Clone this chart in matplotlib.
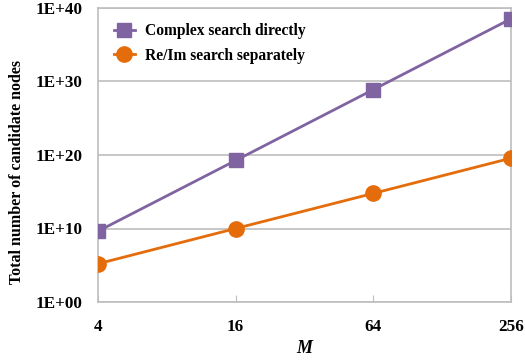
import matplotlib
matplotlib.use("Agg")
import matplotlib.pyplot as plt

# Total candidate nodes versus constellation size M
m_labels = ["4", "16", "64", "256"]
complex_direct = [4.3e9, 1.8e19, 7.9e28, 3.4e38]
reim_separate = [1.6e5, 1.0e10, 6.0e14, 3.7e19]
y_ticks = [1e0, 1e10, 1e20, 1e30, 1e40]
y_tick_labels = ["1E+00", "1E+10", "1E+20", "1E+30", "1E+40"]

purple = "#8064A2"
orange = "#E46C0A"
grid_gray = "#BEBEBE"

plt.rcParams["font.family"] = ["Liberation Serif", "DejaVu Serif"]

fig = plt.figure(figsize=(5.25, 3.62), dpi=100)
ax = fig.add_axes([98 / 525, 1 - 302 / 362, (511 - 98) / 525, (302 - 8) / 362])

x = list(range(len(m_labels)))
ax.plot(x, complex_direct, color=purple, lw=2.0, marker="s", ms=10,
        label="Complex search directly", zorder=3)
ax.plot(x, reim_separate, color=orange, lw=2.0, marker="o", ms=11,
        label="Re/Im search separately", zorder=3)

ax.set_yscale("log")
ax.set_ylim(1e0, 1e40)
ax.set_xlim(0, len(m_labels) - 1)
ax.set_yticks(y_ticks)
ax.set_yticklabels(y_tick_labels)
ax.minorticks_off()
ax.set_xticks(x)
ax.set_xticklabels(m_labels)

ax.yaxis.grid(True, color=grid_gray, lw=1.2)
ax.set_axisbelow(True)
for s in ax.spines.values():
    s.set_color(grid_gray)
    s.set_linewidth(1.2)
ax.tick_params(axis="y", length=0, pad=11, labelsize=12.3)
ax.tick_params(axis="x", direction="in", length=5, color=grid_gray,
               pad=12, labelsize=12.3)
for lab in ax.get_xticklabels() + ax.get_yticklabels():
    lab.set_fontweight("bold")

ax.set_xlabel("M", fontsize=13, fontweight="bold", fontstyle="italic", labelpad=4)
fig.text(17 / 525, 1 - 172 / 362, "Total number of candidate nodes",
         rotation=90, ha="center", va="center", fontsize=11.5,
         fontweight="bold")

leg = ax.legend(loc="upper left", bbox_to_anchor=(0.015, 0.98), frameon=False,
                prop={"family": "Liberation Serif", "weight": "bold", "size": 11.2},
                handlelength=1.4, handletextpad=0.6, labelspacing=0.55,
                borderaxespad=0.2)

fig.savefig("out.png", dpi=100)
